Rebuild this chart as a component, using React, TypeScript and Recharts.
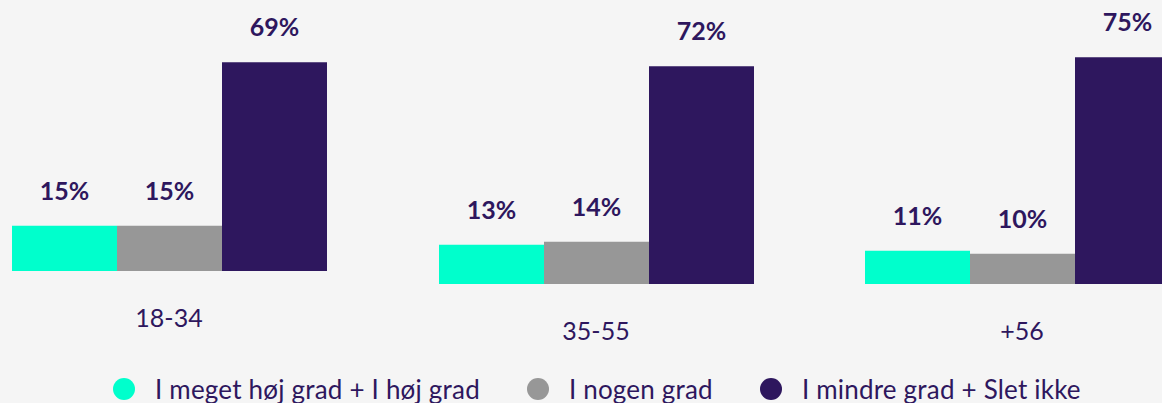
import React from 'react';
import { BarChart, Bar, XAxis, YAxis, Legend, LabelList } from 'recharts';

const categories = ['18-34', '35-55', '+56'];
const seriesNames = ['I meget høj grad + I høj grad', 'I nogen grad', 'I mindre grad + Slet ikke'];
const highValues = [15, 13, 11];
const someValues = [15, 14, 10];
const lowValues = [69, 72, 75];
const seriesKeys = ['high', 'some', 'low'];
const seriesColors = ['#00FFCC', '#979797', '#2E175E'];

const TEXT = '#2E175E';
const FONT = 'Lato, "Open Sans", sans-serif';
const BG = '#F5F5F5';

const chartLefts = [-44, 383, 809];
const chartTops = [29, 42, 42];
const CHART_W = 426;
const CHART_H = 403;
const PLOT_H = 242;
const XAXIS_H = 60;

const renderLegend = (props: any) => {
  const payload = [...(props.payload || [])].sort(
    (a: any, b: any) => seriesNames.indexOf(a.value) - seriesNames.indexOf(b.value)
  );
  return (
    <div style={{ display: 'flex', alignItems: 'center', whiteSpace: 'nowrap' }}>
      {payload.map((p: any, i: number) => (
        <div key={i} style={{ display: 'flex', alignItems: 'center', marginRight: 47 }}>
          <span
            style={{
              display: 'inline-block',
              width: 22,
              height: 22,
              borderRadius: '50%',
              background: p.color,
              marginRight: 20,
            }}
          />
          <span
            style={{
              fontFamily: FONT,
              fontSize: 26,
              letterSpacing: 0.2,
              color: TEXT,
              lineHeight: '30px',
            }}
          >
            {p.value}
          </span>
        </div>
      ))}
    </div>
  );
};

const fmt = (v: any) => `${v}%`;

export default function App() {
  return (
    <div
      style={{
        position: 'absolute',
        left: 0,
        top: 0,
        width: 1162,
        height: 403,
        background: BG,
        overflow: 'hidden',
      }}
    >
      {categories.map((cat, i) => {
        const data = [{ cat, high: highValues[i], some: someValues[i], low: lowValues[i] }];
        const top = chartTops[i];
        return (
          <div key={cat} style={{ position: 'absolute', left: chartLefts[i], top: 0 }}>
            <BarChart
              width={CHART_W}
              height={CHART_H}
              data={data}
              margin={{ top, right: 56, left: 56, bottom: CHART_H - top - PLOT_H - XAXIS_H }}
              barCategoryGap={0}
              barGap={0}
            >
              <XAxis
                dataKey="cat"
                axisLine={false}
                tickLine={false}
                height={XAXIS_H}
                tickMargin={32}
                interval={0}
                tick={{ fill: TEXT, fontSize: 25, fontFamily: FONT }}
              />
              <YAxis hide domain={[0, 80]} />
              {seriesKeys.map((k, s) => (
                <Bar key={k} dataKey={k} name={seriesNames[s]} fill={seriesColors[s]} isAnimationActive={false}>
                  <LabelList
                    dataKey={k}
                    position="top"
                    offset={26}
                    formatter={fmt}
                    style={{ fill: TEXT, fontSize: 25, fontFamily: FONT, fontWeight: 700 }}
                  />
                </Bar>
              ))}
              {i === 0 && (
                <Legend
                  layout="horizontal"
                  verticalAlign="middle"
                  align="center"
                  content={renderLegend}
                  wrapperStyle={{ left: 157, top: 374, width: 1100, height: 30, bottom: 'auto', right: 'auto' }}
                />
              )}
            </BarChart>
          </div>
        );
      })}
    </div>
  );
}
